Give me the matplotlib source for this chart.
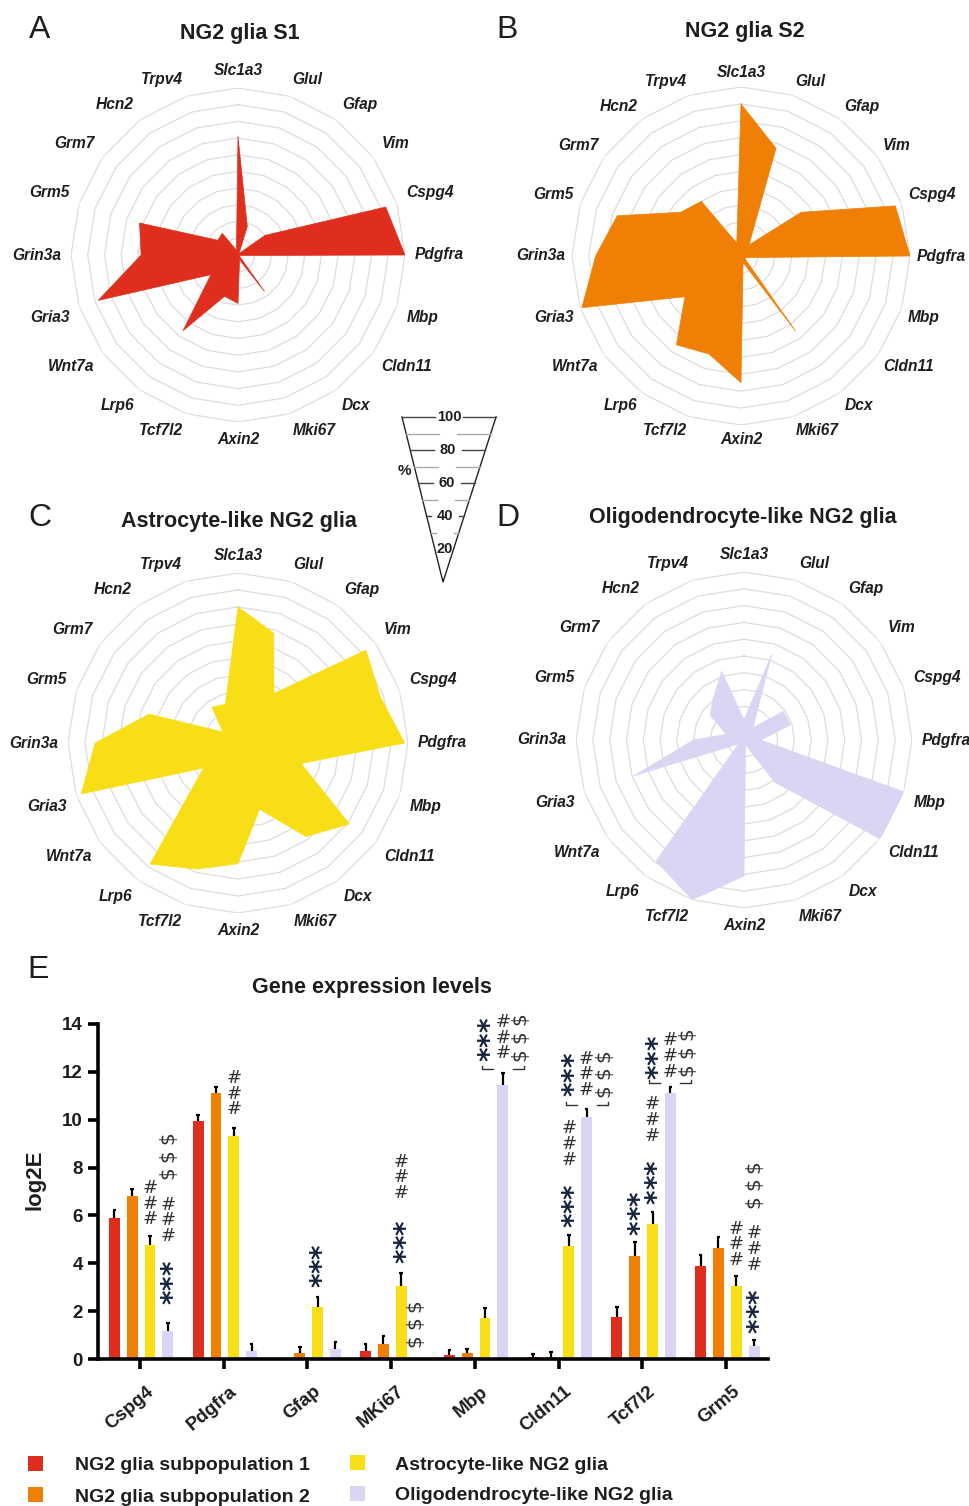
import numpy as np
import matplotlib
matplotlib.use("Agg")
import matplotlib.pyplot as plt
from matplotlib.patches import Rectangle
from matplotlib.transforms import offset_copy, ScaledTranslation

plt.rcParams['font.family'] = ['Liberation Sans', 'DejaVu Sans']

W, H = 970, 1506

# ---------------- radar data ----------------
genes = ["Slc1a3", "Glul", "Gfap", "Vim", "Cspg4", "Pdgfra", "Mbp", "Cldn11", "Dcx", "Mki67",
         "Axin2", "Tcf7l2", "Lrp6", "Wnt7a", "Gria3", "Grin3a", "Grm5", "Grm7", "Hcn2", "Trpv4"]
s1_vals = [71, 18, 1, 20, 93, 100, 1, 1, 27, 3, 29, 26, 56, 20, 88, 58, 62, 15, 16, 3]
s2_vals = [90, 67, 8, 44, 96, 100, 3, 3, 55, 4, 75, 61, 65, 41, 99, 86, 77, 44, 40, 8]
astro_vals = [80, 68, 36, 93, 88, 98, 39, 81, 68, 41, 71, 78, 88, 25, 97, 84, 55, 11, 26, 24]
oligo_vals = [12, 54, 9, 29, 29, 10, 100, 100, 31, 3, 81, 100, 89, 4, 69, 30, 11, 25, 31, 43]
scale_levels = [20, 40, 60, 80, 100]

# ---------------- bar data ----------------
bar_genes = ["Cspg4", "Pdgfra", "Gfap", "MKi67", "Mbp", "Cldn11", "Tcf7l2", "Grm5"]
series_names = ["NG2 glia subpopulation 1", "NG2 glia subpopulation 2",
                "Astrocyte-like NG2 glia", "Oligodendrocyte-like NG2 glia"]
s1_mean = [5.89, 9.96, 0.0, 0.35, 0.17, 0.10, 1.77, 3.90]
s1_err = [0.34, 0.24, 0.0, 0.28, 0.21, 0.10, 0.42, 0.45]
s2_mean = [6.82, 11.12, 0.26, 0.63, 0.24, 0.10, 4.32, 4.63]
s2_err = [0.29, 0.23, 0.26, 0.35, 0.18, 0.20, 0.55, 0.45]
astro_mean = [4.77, 9.30, 2.16, 3.03, 1.70, 4.74, 5.63, 3.03]
astro_err = [0.35, 0.35, 0.44, 0.58, 0.42, 0.45, 0.53, 0.44]
oligo_mean = [1.17, 0.35, 0.42, 0.0, 11.46, 10.10, 11.12, 0.54]
oligo_err = [0.35, 0.28, 0.28, 0.0, 0.49, 0.35, 0.25, 0.26]

# significance marks: (gene index, series index, x shift, symbol, lowest y)
sig_marks = [
    (0, 2, 0.0, '#', 5.5), (0, 3, 0.0, '*', 2.3), (0, 3, 0.0, '#', 4.8), (0, 3, 0.0, '$', 7.4),
    (1, 2, 0.0, '#', 10.1),
    (2, 2, 0.0, '*', 3.0),
    (3, 2, 0.0, '*', 4.0), (3, 2, 0.0, '#', 6.6), (3, 3, -0.05, '$', 0.4),
    (4, 3, -0.21, '*', 12.45), (4, 3, 0.0, '#', 12.44), (4, 3, 0.2, '$', 12.37),
    (5, 2, 0.0, '*', 5.5), (5, 2, 0.0, '#', 8.0),
    (5, 3, -0.21, '*', 11.0), (5, 3, 0.0, '#', 10.9), (5, 3, 0.2, '$', 10.84),
    (6, 1, 0.0, '*', 5.2), (6, 2, 0.0, '*', 6.5), (6, 2, 0.0, '#', 9.0),
    (6, 3, -0.21, '*', 11.7), (6, 3, 0.0, '#', 11.67), (6, 3, 0.2, '$', 11.74),
    (7, 2, 0.0, '#', 3.8), (7, 3, 0.0, '*', 1.1), (7, 3, 0.0, '#', 3.6), (7, 3, 0.0, '$', 6.2),
]
bracket_genes = [4, 5, 6]

colors = ["#DF2E1D", "#EF8005", "#F8DE17", "#D9D5F2"]
TXT = "#1e1e1e"

fig = plt.figure(figsize=(W / 100, H / 100), dpi=100)


def px_axes(left, top, w, h, **kw):
    return fig.add_axes([left / W, 1 - (top + h) / H, w / W, h / H], **kw)


def ftext(x, y, s, **kw):
    fig.text(x / W, 1 - y / H, s, **kw)


def radar(cx, cy, R, vals, color, lab_r=106):
    ax = px_axes(cx - R, cy - R, 2 * R, 2 * R, projection='polar')
    ax.set_theta_zero_location('N')
    ax.set_theta_direction(-1)
    ax.set_ylim(0, 100)
    ax.axis('off')
    n = len(genes)
    th = np.arange(n) * 2 * np.pi / n
    thc = np.append(th, th[0])
    for lvl in range(10, 101, 10):
        ax.plot(thc, [lvl] * (n + 1), color='#dcdcdc', lw=0.9, zorder=1)
    v = np.append(vals, vals[0])
    ax.fill(thc, v, color=color, lw=0.5, zorder=3)
    for t, g in zip(th, genes):
        s, c = np.sin(t), np.cos(t)
        ha = 'left' if s > 0.15 else ('right' if s < -0.15 else 'center')
        va = 'bottom' if c > 0.15 else ('top' if c < -0.15 else 'center')
        ax.text(t, lab_r, g, ha=ha, va=va, fontsize=11.2, style='italic',
                weight='bold', color=TXT, clip_on=False)
    return ax


radar(238, 255, 167, s1_vals, colors[0])
radar(741, 256, 169, s2_vals, colors[1], lab_r=104)
radar(238, 743, 170, astro_vals, colors[2])
radar(744, 740, 168, oligo_vals, colors[3])

TS = 15.5
ftext(240, 33, "NG2 glia S1", ha='center', va='center', fontsize=TS, weight='bold', color=TXT)
ftext(745, 32, "NG2 glia S2", ha='center', va='center', fontsize=TS, weight='bold', color=TXT)
ftext(239, 521, "Astrocyte-like NG2 glia", ha='center', va='center', fontsize=TS, weight='bold', color=TXT)
ftext(743, 518, "Oligodendrocyte-like NG2 glia", ha='center', va='center', fontsize=TS, weight='bold', color=TXT)
for lab, x, y in [("A", 40, 30), ("B", 507, 30), ("C", 40, 518), ("D", 508, 518), ("E", 38, 970)]:
    ftext(x, y, lab, ha='center', va='center', fontsize=23, color=TXT)

# ---------------- scale triangle ----------------
sax = px_axes(380, 400, 130, 190)
sax.set_xlim(380, 510)
sax.set_ylim(590, 400)
sax.axis('off')
apex_x, apex_y, top_y, lx, rx = 443, 582, 417, 402, 496


def ly(v):
    return apex_y - (apex_y - top_y) * v / 100


def lxv(v):
    return apex_x + (lx - apex_x) * v / 100


def rxv(v):
    return apex_x + (rx - apex_x) * v / 100


sax.plot([lxv(100), apex_x, rxv(100)], [ly(100), apex_y, ly(100)], color='#222', lw=1.0)
for v in range(10, 101, 10):
    y = ly(v)
    labeled = v in scale_levels
    gap = 14 if labeled else 9
    col = '#444' if labeled else '#aaa'
    xl, xr = lxv(v), rxv(v)
    mid = (xl + xr) / 2
    if xr - xl > 2 * gap + 4:
        sax.plot([xl, mid - gap], [y, y], color=col, lw=1.0)
        sax.plot([mid + gap, xr], [y, y], color=col, lw=1.0)
    if labeled:
        sax.text(mid, y, str(v), ha='center', va='center', fontsize=10.5, weight='bold', color=TXT)
sax.text(404, 471, "%", ha='center', va='center', fontsize=11, weight='bold', color=TXT)

# ---------------- bar chart ----------------
ax = px_axes(98, 1024, 670, 335)
x = np.arange(len(bar_genes))
offs = [(i - 1.5) * 0.213 + 0.015 for i in range(4)]
bw = 0.13
means = [s1_mean, s2_mean, astro_mean, oligo_mean]
errs = [s1_err, s2_err, astro_err, oligo_err]
for i in range(4):
    xs = x + offs[i]
    m = np.array(means[i])
    e = np.array(errs[i])
    ax.bar(xs, m, width=bw, color=colors[i], zorder=2, label=series_names[i])
    k = e > 0
    ax.vlines(xs[k], m[k], m[k] + e[k], color='black', lw=1.6, zorder=3)
    ax.hlines(m[k] + e[k], xs[k] - 0.022, xs[k] + 0.022, color='black', lw=1.6, zorder=3)

ax.set_xlim(-0.5, 7.5)
ax.set_ylim(0, 14)
ax.set_yticks(range(0, 15, 2))
ax.set_xticks(x)
ax.set_xticklabels(bar_genes, rotation=40, ha='right', va='center', rotation_mode='anchor')
for sp in ['top', 'right']:
    ax.spines[sp].set_visible(False)
for sp in ['left', 'bottom']:
    ax.spines[sp].set_linewidth(2.6)
ax.tick_params(axis='both', direction='out', length=7, width=2.6, labelsize=13.5, pad=4)
for lab in ax.get_yticklabels() + ax.get_xticklabels():
    lab.set_fontweight('bold')
    lab.set_color(TXT)
xoff = ScaledTranslation(8 / 72, -11 / 72, fig.dpi_scale_trans)
for lab in ax.get_xticklabels():
    lab.set_transform(lab.get_transform() + xoff)
ftext(372, 987, "Gene expression levels", ha='center', va='center', fontsize=15.5, weight='bold', color=TXT)
ftext(35, 1180, "log2E", ha='center', va='center', rotation=90, fontsize=16, weight='bold', color=TXT)

sym_style = {
    '*': dict(step=0.6, size=20, color='#16233b', rot=90, weight='bold', family='DejaVu Sans', dx=3.8),
    '#': dict(step=0.66, size=13, color='#333333', rot=0, weight='normal', family='DejaVu Sans', dx=0),
    '$': dict(step=0.74, size=14.5, color='#333333', rot=90, weight='normal', family='DejaVu Sans', dx=0),
}
for g, s, dxu, sym, ylo in sig_marks:
    st = sym_style[sym]
    xc = x[g] + offs[s] + dxu
    tr = offset_copy(ax.transData, fig=fig, x=st['dx'], y=0, units='points')
    for kk in range(3):
        ax.text(xc, ylo + (kk + 0.5) * st['step'], sym, transform=tr, ha='center', va='center',
                rotation=st['rot'], rotation_mode='anchor', fontsize=st['size'],
                color=st['color'], weight=st['weight'], family=st['family'], clip_on=False)

for g in bracket_genes:
    xc = x[g] + offs[3]
    yb = oligo_mean[g] + oligo_err[g] + 0.15
    ax.plot([xc - 0.25, xc - 0.25, xc - 0.12], [yb + 0.15, yb, yb], color='#333', lw=1.0)
    ax.plot([xc + 0.12, xc + 0.25, xc + 0.25], [yb, yb, yb + 0.15], color='#333', lw=1.0)

# ---------------- legend ----------------
leg_pos = [(28, 1464, 75), (28, 1495, 75), (350, 1463, 395), (350, 1494, 395)]
for i, (sx, sy, tx) in enumerate(leg_pos):
    fig.add_artist(Rectangle((sx / W, 1 - (sy + 7) / H), 15 / W, 15 / H, transform=fig.transFigure,
                             facecolor=colors[i], edgecolor='none'))
    ftext(tx, sy + 2, series_names[i], ha='left', va='center', fontsize=14, weight='bold', color=TXT)

fig.savefig("out.png", dpi=100, facecolor='white')
